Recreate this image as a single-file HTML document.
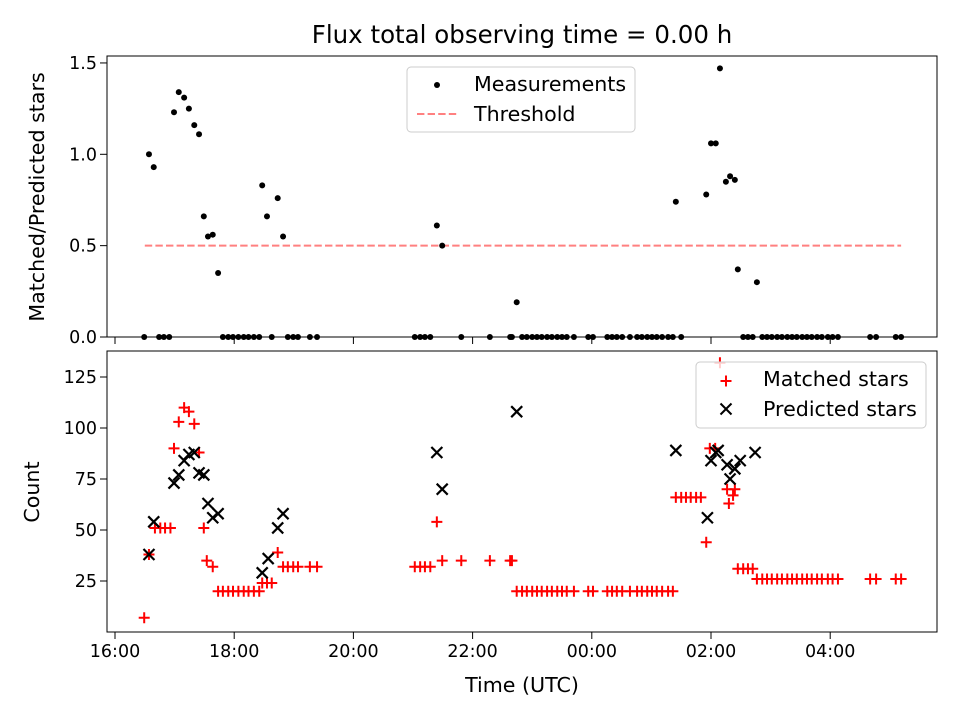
<!DOCTYPE html>
<html><head><meta charset="utf-8"><style>
body{margin:0;background:#fff;font-family:"Liberation Sans","DejaVu Sans",sans-serif}
svg text{font-family:"DejaVu Sans","Liberation Sans",sans-serif}
</style></head><body>
<svg id="c" width="960" height="720" viewBox="0 0 960 720" xmlns="http://www.w3.org/2000/svg">
<rect width="960" height="720" fill="#fff"/>
<text x="522" y="43" font-size="24.5" text-anchor="middle">Flux total observing time = 0.00 h</text>
<g id="gtop"></g>
<g id="gbot"></g>
<text x="44" y="197" font-size="20.6" text-anchor="middle" transform="rotate(-90 44 197)">Matched/Predicted stars</text>
<text x="39" y="492" font-size="20.6" text-anchor="middle" transform="rotate(-90 39 492)">Count</text>
<text x="522" y="692" font-size="20.6" text-anchor="middle">Time (UTC)</text>
<g>
<rect x="407" y="67" width="228" height="65" rx="4" fill="#fff" fill-opacity="0.8" stroke="#ccc"/>
<circle cx="437" cy="85" r="3" fill="#000"/>
<text x="474" y="91" font-size="20.6">Measurements</text>
<line x1="417" x2="457" y1="114" y2="114" stroke="#ff8080" stroke-width="2" stroke-dasharray="7.4,3.2"/>
<text x="474" y="121" font-size="20.6">Threshold</text>
</g>
<g>
<rect x="696" y="362" width="230" height="66" rx="4" fill="#fff" fill-opacity="0.8" stroke="#ccc"/>
<path d="M720.5 381H731.5M726 375.5V386.5" stroke="#f00" stroke-width="2"/>
<text x="763" y="386" font-size="20.6">Matched stars</text>
<path d="M720.5 403.5L731.5 414.5M720.5 414.5L731.5 403.5" stroke="#000" stroke-width="2"/>
<text x="763" y="416" font-size="20.6">Predicted stars</text>
</g>
</svg>
<script>
const xTickHours=[16,18,20,22,24,26,28];
const xTickLabels=["16:00","18:00","20:00","22:00","00:00","02:00","04:00"];
const ratioTicks=[0,0.5,1.0,1.5];
const ratioTickLabels=["0.0","0.5","1.0","1.5"];
const countTicks=[25,50,75,100,125];
const threshold=0.5;
const thresholdRange=[16.50,29.19];
const ratioTimes=[16.49,16.57,16.65,16.74,16.82,16.91,16.99,17.07,17.16,17.24,17.33,17.41,17.49,17.56,17.64,17.73,17.81,17.90,17.98,18.07,18.16,18.24,18.33,18.42,18.47,18.55,18.63,18.73,18.82,18.90,18.99,19.07,19.27,19.39,21.03,21.12,21.20,21.29,21.40,21.49,21.81,22.29,22.63,22.66,22.74,22.83,22.91,23.00,23.08,23.16,23.25,23.33,23.42,23.50,23.58,23.70,23.94,24.02,24.26,24.34,24.42,24.51,24.64,24.76,24.84,24.93,25.01,25.09,25.18,25.28,25.36,25.41,25.50,25.92,26.00,26.08,26.15,26.25,26.32,26.40,26.45,26.54,26.62,26.70,26.77,26.86,26.94,27.02,27.11,27.19,27.28,27.36,27.44,27.53,27.61,27.69,27.78,27.86,27.96,28.04,28.13,28.67,28.77,29.10,29.19];
const ratioValues=[0,1.00,0.93,0,0,0,1.23,1.34,1.31,1.25,1.16,1.11,0.66,0.55,0.56,0.35,0,0,0,0,0,0,0,0,0.83,0.66,0,0.76,0.55,0,0,0,0,0,0,0,0,0,0.61,0.50,0,0,0,0,0.19,0,0,0,0,0,0,0,0,0,0,0,0,0,0,0,0,0,0,0,0,0,0,0,0,0,0,0.74,0,0.78,1.06,1.06,1.47,0.85,0.88,0.86,0.37,0,0,0,0.30,0,0,0,0,0,0,0,0,0,0,0,0,0,0,0,0,0,0,0,0];
const matchedTimes=[16.49,16.57,16.67,16.76,16.84,16.93,16.99,17.07,17.16,17.24,17.33,17.41,17.49,17.54,17.64,17.73,17.81,17.90,17.98,18.07,18.16,18.24,18.33,18.42,18.47,18.55,18.63,18.73,18.82,18.90,18.99,19.07,19.27,19.39,21.03,21.12,21.20,21.29,21.40,21.49,21.81,22.29,22.63,22.66,22.74,22.83,22.91,23.00,23.08,23.16,23.25,23.33,23.42,23.50,23.58,23.70,23.94,24.02,24.26,24.34,24.42,24.51,24.64,24.76,24.84,24.93,25.01,25.09,25.18,25.28,25.36,25.41,25.50,25.58,25.66,25.75,25.83,25.92,25.98,26.07,26.15,26.27,26.30,26.37,26.40,26.45,26.54,26.62,26.70,26.77,26.86,26.94,27.02,27.11,27.19,27.28,27.36,27.44,27.53,27.61,27.69,27.78,27.86,27.96,28.04,28.13,28.67,28.77,29.10,29.19];
const matchedValues=[7,38,51,51,51,51,90,103,110,108,102,88,51,35,32,20,20,20,20,20,20,20,20,20,24,24,24,39,32,32,32,32,32,32,32,32,32,32,54,35,35,35,35,35,20,20,20,20,20,20,20,20,20,20,20,20,20,20,20,20,20,20,20,20,20,20,20,20,20,20,20,66,66,66,66,66,66,44,90,90,132,70,63,67,70,31,31,31,31,26,26,26,26,26,26,26,26,26,26,26,26,26,26,26,26,26,26,26,26,26];
const predictedTimes=[16.57,16.65,16.99,17.07,17.16,17.24,17.33,17.41,17.49,17.56,17.64,17.73,18.47,18.57,18.73,18.82,21.40,21.49,22.74,25.41,25.94,26.00,26.08,26.12,26.27,26.32,26.40,26.49,26.74];
const predictedValues=[38,54,73,77,84,87,88,78,77,63,56,58,29,36,51,58,88,70,108,89,56,84,88,89,82,75,80,84,88];

const NS="http://www.w3.org/2000/svg";
const L=107,R=937,T1=56,B1=337,T2=351,B2=632;
function X(h){return 115+(h-16)*59.6;}
function Y1(v){return 337-v*182.7;}
function Y2(v){return 581-(v-25)*2.04;}
function mk(tag,attrs,parent){const e=document.createElementNS(NS,tag);for(const k in attrs)e.setAttribute(k,attrs[k]);parent.appendChild(e);return e;}
const gTop=document.getElementById('gtop'),gBot=document.getElementById('gbot');

const th=mk('line',{x1:X(thresholdRange[0]),x2:X(thresholdRange[1]),y1:Y1(threshold),y2:Y1(threshold),stroke:'#ff8080','stroke-width':2,'stroke-dasharray':'7.4,3.2'},gTop);


ratioTimes.forEach((t,i)=>{
  const c=mk('circle',{cx:X(t),cy:Y1(ratioValues[i]),r:3,fill:'#000'},gTop);
  
  
});
matchedTimes.forEach((t,i)=>{
  const x=X(t),y=Y2(matchedValues[i]);
  const p=mk('path',{d:`M${x-5.5} ${y}H${x+5.5}M${x} ${y-5.5}V${y+5.5}`,stroke:'#ff0000','stroke-width':2,fill:'none'},gBot);
  
  
});
predictedTimes.forEach((t,i)=>{
  const x=X(t),y=Y2(predictedValues[i]);
  const p=mk('path',{d:`M${x-5.5} ${y-5.5}L${x+5.5} ${y+5.5}M${x-5.5} ${y+5.5}L${x+5.5} ${y-5.5}`,stroke:'#000','stroke-width':2.2,fill:'none'},gBot);
  
  
});
[[gTop,T1,B1],[gBot,T2,B2]].forEach(([g,t,b])=>{
  const r=mk('rect',{x:L,y:t,width:R-L,height:b-t,fill:'none',stroke:'#000','stroke-width':1},g);
  
  
  xTickHours.forEach(h=>{mk('line',{x1:X(h),x2:X(h),y1:b,y2:b+7,stroke:'#000'},g);});
});
xTickHours.forEach((h,i)=>{
  const tx=mk('text',{x:X(h),y:B2+25,'font-size':17.5,'text-anchor':'middle'},gBot);
  tx.textContent=xTickLabels[i];
  
  
});
ratioTicks.forEach((v,i)=>{
  mk('line',{x1:L-7,x2:L,y1:Y1(v),y2:Y1(v),stroke:'#000'},gTop);
  const tx=mk('text',{x:L-10,y:Y1(v)+6,'font-size':17.5,'text-anchor':'end'},gTop);
  tx.textContent=ratioTickLabels[i];
  
  
});
countTicks.forEach(v=>{
  mk('line',{x1:L-7,x2:L,y1:Y2(v),y2:Y2(v),stroke:'#000'},gBot);
  const tx=mk('text',{x:L-10,y:Y2(v)+6,'font-size':17.5,'text-anchor':'end'},gBot);
  tx.textContent=String(v);
  
  
});
</script>
</body></html>
